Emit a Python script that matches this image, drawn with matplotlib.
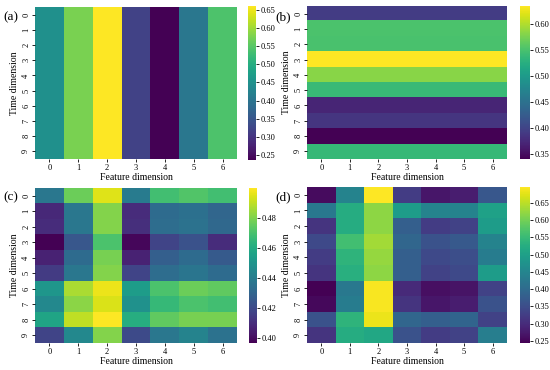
import numpy as np
import matplotlib.pyplot as plt
from matplotlib.ticker import FormatStrFormatter

plt.rcParams['font.family'] = ['Liberation Serif', 'DejaVu Serif']

features = [0, 1, 2, 3, 4, 5, 6]
times = [0, 1, 2, 3, 4, 5, 6, 7, 8, 9]

# (a) same value down each column
cols_a = [0.450, 0.576, 0.661, 0.320, 0.236, 0.405, 0.542]
data_a = np.tile(cols_a, (10, 1))

# (b) same value along each row
rows_b = [0.393, 0.552, 0.550, 0.635, 0.582, 0.540, 0.370, 0.385, 0.340, 0.538]
data_b = np.tile(np.array(rows_b)[:, None], (1, 7))

data_c = np.array([
    [0.438, 0.477, 0.495, 0.440, 0.469, 0.472, 0.469],
    [0.409, 0.438, 0.481, 0.410, 0.433, 0.435, 0.431],
    [0.410, 0.438, 0.481, 0.411, 0.434, 0.436, 0.432],
    [0.397, 0.425, 0.471, 0.399, 0.418, 0.423, 0.410],
    [0.407, 0.433, 0.479, 0.407, 0.428, 0.433, 0.426],
    [0.415, 0.438, 0.481, 0.418, 0.434, 0.437, 0.433],
    [0.451, 0.487, 0.497, 0.454, 0.471, 0.477, 0.475],
    [0.445, 0.482, 0.494, 0.449, 0.466, 0.471, 0.469],
    [0.457, 0.490, 0.500, 0.461, 0.475, 0.479, 0.479],
    [0.418, 0.445, 0.481, 0.420, 0.438, 0.443, 0.436],
])

data_d = np.array([
    [0.258, 0.447, 0.696, 0.325, 0.271, 0.280, 0.366],
    [0.425, 0.524, 0.619, 0.493, 0.447, 0.447, 0.502],
    [0.312, 0.524, 0.619, 0.380, 0.325, 0.334, 0.493],
    [0.343, 0.560, 0.633, 0.393, 0.357, 0.370, 0.447],
    [0.325, 0.538, 0.624, 0.380, 0.343, 0.352, 0.434],
    [0.312, 0.529, 0.619, 0.380, 0.334, 0.343, 0.493],
    [0.244, 0.425, 0.691, 0.298, 0.262, 0.267, 0.334],
    [0.253, 0.434, 0.691, 0.312, 0.271, 0.280, 0.357],
    [0.357, 0.538, 0.682, 0.393, 0.380, 0.389, 0.334],
    [0.312, 0.524, 0.515, 0.357, 0.325, 0.334, 0.438],
])

ticks_a = [0.25, 0.30, 0.35, 0.40, 0.45, 0.50, 0.55, 0.60, 0.65]
ticks_b = [0.35, 0.40, 0.45, 0.50, 0.55, 0.60]
ticks_c = [0.40, 0.42, 0.44, 0.46, 0.48]
ticks_d = [0.25, 0.30, 0.35, 0.40, 0.45, 0.50, 0.55, 0.60, 0.65]

W, H = 550, 370
fig = plt.figure(figsize=(5.5, 3.7), dpi=100)


def box(x0, y0, x1, y1):
    # pixel box -> figure fraction
    return [x0 / W, 1 - y1 / H, (x1 - x0) / W, (y1 - y0) / H]


panels = [
    ("(a)", data_a, ticks_a, box(35, 7, 237, 159), box(248, 6, 256, 160), (3, 17)),
    ("(b)", data_b, ticks_b, box(307, 6, 507, 159), box(520, 6, 530, 159), (275, 17)),
    ("(c)", data_c, ticks_c, box(35, 188, 237, 343), box(249, 188, 257, 343), (3, 197)),
    ("(d)", data_d, ticks_d, box(307, 187, 507, 343), box(520, 187, 530, 343), (275, 197)),
]

for lab, data, cticks, hpos, cpos, lpos in panels:
    ax = fig.add_axes(hpos)
    cax = fig.add_axes(cpos)
    im = ax.imshow(data, cmap="viridis", aspect="auto", interpolation="nearest")
    ax.set_xticks(features)
    ax.set_xticklabels([str(f) for f in features])
    ax.set_yticks(times)
    ax.set_yticklabels([str(t) for t in times], rotation=90, va="center")
    ax.tick_params(labelsize=6, length=2, width=0.6, pad=1.5)
    for s in ax.spines.values():
        s.set_visible(False)
    ax.set_xlabel("Feature dimension", fontsize=7, labelpad=1)
    ax.set_ylabel("Time dimension", fontsize=7, labelpad=2)

    cb = fig.colorbar(im, cax=cax, ticks=cticks)
    cb.outline.set_visible(False)
    cb.ax.yaxis.set_major_formatter(FormatStrFormatter("%.2f"))
    cb.ax.tick_params(labelsize=6, length=2, width=0.6, pad=1)

    fig.text(lpos[0] / W, 1 - lpos[1] / H, lab, fontsize=9.5, va="center", ha="left")

fig.savefig("out.png", dpi=100)
